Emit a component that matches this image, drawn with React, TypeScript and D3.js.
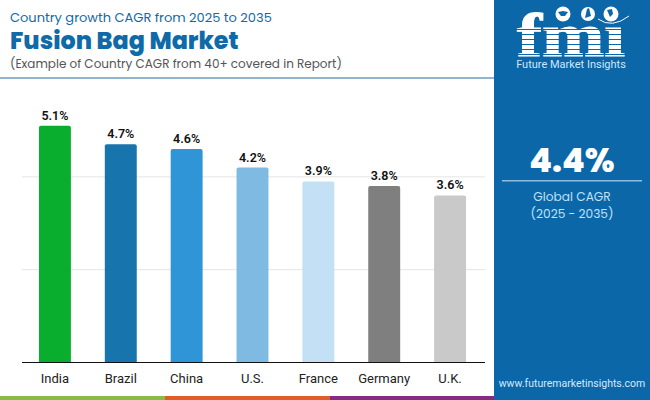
import React from 'react';
import * as d3 from 'd3';

const countries = ['India', 'Brazil', 'China', 'U.S.', 'France', 'Germany', 'U.K.'];
const cagr = [5.1, 4.7, 4.6, 4.2, 3.9, 3.8, 3.6];
const barColors = ['#09ae2f', '#1874ad', '#3095d6', '#7fbae2', '#c3e0f4', '#7f7f7f', '#c9c9c9'];
const gridTicks = [2, 4];
const stripeColors = ['#8bbb47', '#df5d29', '#842b84'];
const logoStripes = [29, 34, 39, 44, 49, 54];

const width = 650;
const height = 400;
const panelBlue = '#0b67a8';
const titleBlue = '#0f6aa8';
const font = 'Poppins, Inter, "Open Sans", sans-serif';

const x = d3.scaleBand<string>().domain(countries).range([22, 483]).paddingInner(0.515).paddingOuter(0.2575);
const y = d3.scaleLinear().domain([0, 6]).range([362.5, 84]);
const stripeX = d3.scaleBand<number>().domain([0, 1, 2]).range([0, 495]);

const App = () => {
  return (
    <svg
      width={width}
      height={height}
      viewBox={`0 0 ${width} ${height}`}
      style={{ position: 'absolute', left: 0, top: 0, background: '#fff' }}
      fontFamily={font}
    >
      {/* header */}
      <text x={10} y={22} fontSize={13} fill={titleBlue}>Country growth CAGR from 2025 to 2035</text>
      <text x={10} y={49} fontSize={23.8} fontWeight={800} fill={titleBlue}>Fusion Bag Market</text>
      <text x={10} y={68} fontSize={12} fill="#555">(Example of Country CAGR from 40+ covered in Report)</text>
      <rect x={0} y={77} width={494} height={2} fill="#8fb4cf" />

      {/* grid */}
      {gridTicks.map(t => (
        <line key={t} x1={22} x2={485} y1={y(t)} y2={y(t)} stroke="#e4e4e4" strokeWidth={1} />
      ))}

      {/* bars */}
      {countries.map((c, i) => (
        <g key={c}>
          <path
            d={`M${x(c)},${y(0)}V${y(cagr[i]) + 2}q0,-2 2,-2H${x(c)! + x.bandwidth() - 2}q2,0 2,2V${y(0)}Z`}
            fill={barColors[i]}
          />
          <text
            x={x(c)! + x.bandwidth() / 2}
            y={y(cagr[i]) - 6}
            textAnchor="middle"
            fontSize={12.5}
            fontWeight={600}
            fontFamily="Roboto, sans-serif"
            fill="#111"
          >
            {cagr[i]}%
          </text>
          <text
            x={x(c)! + x.bandwidth() / 2}
            y={383}
            textAnchor="middle"
            fontSize={13}
            fontFamily="Roboto, sans-serif"
            fill="#222"
          >
            {c}
          </text>
        </g>
      ))}
      <line x1={22} x2={485} y1={y(0)} y2={y(0)} stroke="#111" strokeWidth={1} />

      {/* bottom stripe */}
      {stripeColors.map((col, i) => (
        <rect key={col} x={stripeX(i)} y={396} width={stripeX.bandwidth()} height={4} fill={col} />
      ))}

      {/* right panel */}
      <rect x={494} y={0} width={156} height={400} fill={panelBlue} />

      {/* logo */}
      <text
        x={517}
        y={56}
        fontSize={62}
        fontWeight={700}
        fontFamily="'Liberation Serif', serif"
        fill="#fff"
        stroke="#fff"
        strokeWidth={1.2}
        textLength={108}
        lengthAdjust="spacingAndGlyphs"
      >
        fmi
      </text>
      {logoStripes.map(s => (
        <rect key={s} x={515} y={s} width={112} height={1} fill={panelBlue} />
      ))}
      <rect x={600} y={2} width={26} height={22} fill={panelBlue} />
      <circle cx={563} cy={14} r={7.5} fill="#fff" />
      <circle cx={588} cy={14} r={7} fill="#fff" />
      <circle cx={611} cy={14} r={7.5} fill="#fff" />
      <path d="M558,12l5,-1l5,1l-3,4h-4Z" fill={panelBlue} />
      <path d="M587,9l2,-1l2,8l-6,2Z" fill={panelBlue} />
      <path d="M607,10l5,-1l1,5l-3,3Z" fill={panelBlue} />
      <path d="M598,19q14,10 31,-3" fill="none" stroke="#fff" strokeWidth={1} />
      <text x={571} y={68} textAnchor="middle" fontSize={11} fontFamily="Roboto, sans-serif" fill="#cfe6f7">
        Future Market Insights
      </text>

      {/* global CAGR */}
      <text x={572} y={172} textAnchor="middle" fontSize={33} fontWeight={800} fill="#fff">4.4%</text>
      <rect x={502} y={180} width={140} height={1.5} fill="#8dbde0" />
      <text x={572} y={201} textAnchor="middle" fontSize={12.2} fill="#bfe0f7">Global CAGR</text>
      <text x={572} y={218} textAnchor="middle" fontSize={12.2} fill="#bfe0f7">(2025 - 2035)</text>

      <text x={572} y={387} textAnchor="middle" fontSize={10.5} fontFamily="Roboto, sans-serif" fill="#d5e9f8">
        www.futuremarketinsights.com
      </text>
    </svg>
  );
};

export default App;
